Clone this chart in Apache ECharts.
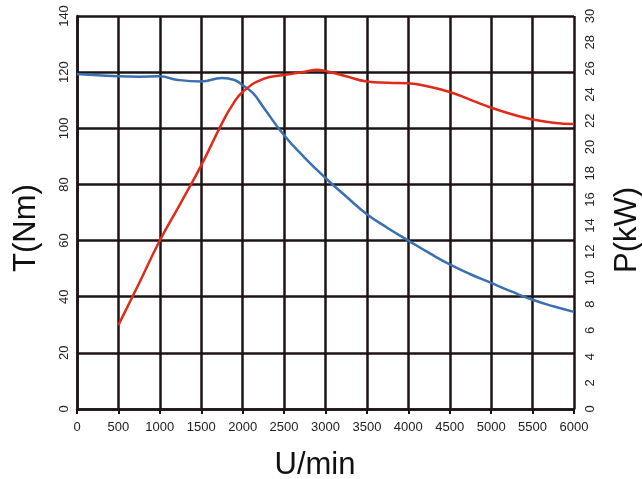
<!DOCTYPE html>
<html><head><meta charset="utf-8">
<script src="https://cdn.jsdelivr.net/npm/echarts@6/dist/echarts.min.js"></script>
<style>html,body{margin:0;padding:0;background:#fff;overflow:hidden}#c{width:100vw;height:100vh}</style>
</head><body><div id="c"></div>
<script>
const xTicks = [0,500,1000,1500,2000,2500,3000,3500,4000,4500,5000,5500,6000];
const torqueRpm = [0,250,500,750,1000,1200,1500,1750,1900,2000,2125,2250,2500,2750,3000,3250,3500,3750,4000,4250,4500,4750,5000,5250,5500,5750,6000];
const torqueNm  = [119.3,118.9,118.5,118.4,118.5,117.3,116.7,117.9,117.2,115.3,112.5,107.5,97.5,89.5,82.3,75.7,69.4,64.5,60,55.6,51.5,48,44.9,41.8,38.9,36.6,34.6];
const powerRpm = [500,750,1000,1250,1500,1750,1875,2000,2250,2500,2750,2900,3000,3250,3500,3750,4000,4250,4500,4750,5000,5250,5500,5750,6000];
const powerKw  = [6.4,9.6,12.86,15.7,18.6,21.8,23.2,24.2,25.2,25.5,25.75,25.9,25.8,25.4,25.0,24.9,24.86,24.6,24.2,23.6,23.0,22.5,22.1,21.85,21.75];
const axisNames = {x:'U/min', left:'T(Nm)', right:'P(kW)'};

const el = document.getElementById('c');
const chart = echarts.init(el);
const font = 'Liberation Sans, Arial, sans-serif';
const gridColor = '#1c1414';
const labelStyle = {color:'#222', fontSize:13, fontFamily:font};
const nameStyle = {fontSize:31, fill:'#111', fontFamily:font};
chart.setOption({
  animation:false,
  grid:{left:77,right:68,top:16,bottom:70},
  xAxis:{type:'value',min:0,max:6000,interval:500,
    axisLine:{lineStyle:{color:gridColor,width:2.5}},
    axisTick:{show:true,length:5,lineStyle:{color:gridColor,width:2}},
    axisLabel:Object.assign({margin:12,formatter:v=>String(v)},labelStyle),
    splitLine:{show:true,lineStyle:{color:gridColor,width:2.5}}},
  yAxis:[
    {type:'value',min:0,max:140,interval:20,position:'left',
     axisLine:{show:true,lineStyle:{color:gridColor,width:2.5}},
     axisTick:{show:false},
     axisLabel:Object.assign({rotate:90,margin:6},labelStyle),
     splitLine:{show:true,lineStyle:{color:gridColor,width:2.5}}},
    {type:'value',min:0,max:30,interval:2,position:'right',
     axisLine:{show:false},
     axisTick:{show:false},
     axisLabel:Object.assign({rotate:90,margin:10},labelStyle),
     splitLine:{show:false}}
  ],
  graphic:[
    {type:'text',x:315,y:465,style:Object.assign({text:axisNames.x,align:'center',verticalAlign:'middle'},nameStyle)},
    {type:'text',x:26,y:228,rotation:Math.PI/2,style:Object.assign({text:axisNames.left,align:'center',verticalAlign:'middle'},nameStyle)},
    {type:'text',x:627,y:230,rotation:Math.PI/2,style:Object.assign({text:axisNames.right,align:'center',verticalAlign:'middle'},nameStyle)}
  ],
  series:[
    {type:'line',yAxisIndex:0,smooth:0.5,symbol:'none',
     lineStyle:{color:'#3a6fb2',width:2.5},
     data:torqueRpm.map((x,i)=>[x,torqueNm[i]])},
    {type:'line',yAxisIndex:1,smooth:0.5,symbol:'none',
     lineStyle:{color:'#e02a1a',width:2.5},
     data:powerRpm.map((x,i)=>[x,powerKw[i]])}
  ]
});
</script></body></html>
